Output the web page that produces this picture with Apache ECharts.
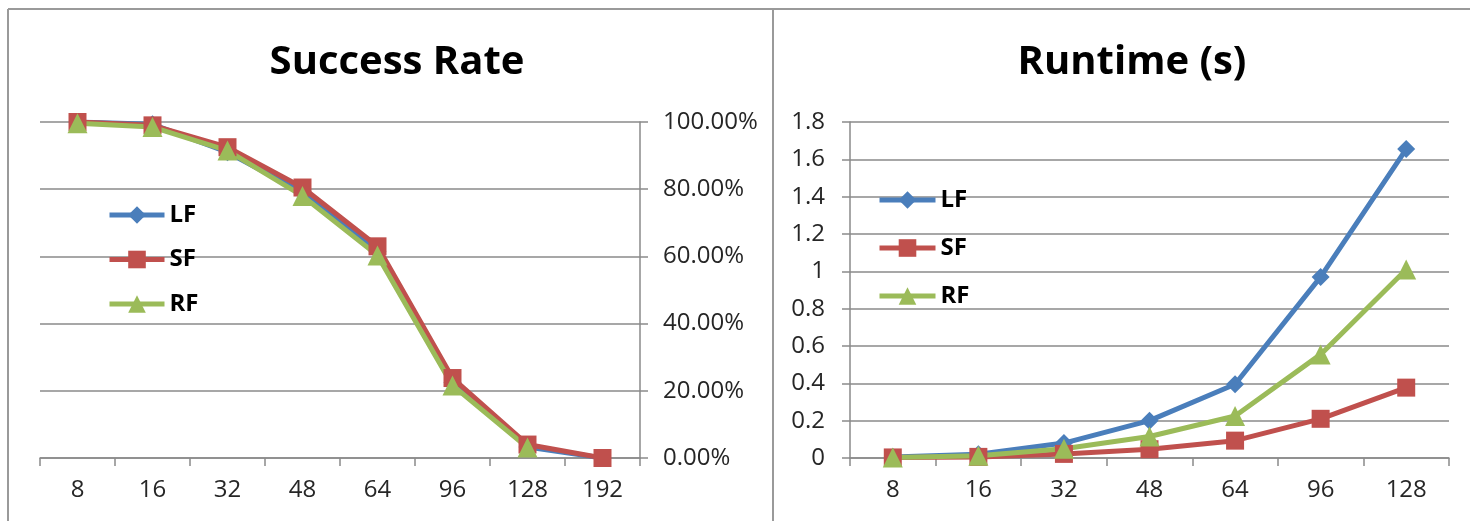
<!DOCTYPE html>
<html>
<head>
<meta charset="utf-8">
<script src="https://cdn.jsdelivr.net/npm/echarts@6/dist/echarts.min.js"></script>
<style>
  html, body { margin: 0; padding: 0; background: #fff; }
  #chart { width: 1470px; height: 521px; }
</style>
</head>
<body>
<div id="chart"></div>
<script>
// Success rate (%) by problem size
const successCategories = ['8', '16', '32', '48', '64', '96', '128', '192'];
const successLF = [100, 99.3, 91, 79, 61.5, 22.5, 3.3, 0];
const successSF = [100, 99, 92.5, 80.5, 63, 23.8, 4, 0];
const successRF = [99.6, 98.5, 91.5, 78, 60.3, 21.6, 3.1, null];

// Runtime (seconds) by problem size
const runtimeCategories = ['8', '16', '32', '48', '64', '96', '128'];
const runtimeLF = [0.005, 0.02, 0.08, 0.2, 0.395, 0.97, 1.655];
const runtimeSF = [0.003, 0.006, 0.022, 0.047, 0.093, 0.21, 0.377];
const runtimeRF = [0.003, 0.012, 0.05, 0.115, 0.225, 0.555, 1.01];

const seriesNames = ['LF', 'SF', 'RF'];

const COLORS = { LF: '#4a7ebb', SF: '#c0504d', RF: '#9bbb59' };
const SYMBOLS = { LF: ['diamond', 18], SF: ['rect', 18], RF: ['triangle', 20] };
const FONT = '"Open Sans", "DejaVu Sans", sans-serif';
const GRID_COLOR = '#8a8a8a';
const TEXT_COLOR = '#262626';

function lineSeries(name, data, axisIdx) {
  return {
    name: name,
    type: 'line',
    data: data,
    xAxisIndex: axisIdx,
    yAxisIndex: axisIdx,
    symbol: SYMBOLS[name][0],
    symbolSize: SYMBOLS[name][1],
    showAllSymbol: true,
    connectNulls: false,
    lineStyle: { color: COLORS[name], width: 5 },
    itemStyle: { color: COLORS[name] },
    emphasis: { disabled: true }
  };
}

function catAxis(gridIndex, data) {
  return {
    type: 'category',
    gridIndex: gridIndex,
    data: data,
    boundaryGap: true,
    axisLine: { show: true, lineStyle: { color: GRID_COLOR, width: 1.5 } },
    axisTick: { show: true, length: 8, alignWithLabel: false, lineStyle: { color: GRID_COLOR, width: 1.5 } },
    axisLabel: { color: TEXT_COLOR, fontFamily: FONT, fontSize: 24, margin: 20 },
    splitLine: { show: false }
  };
}

function legendBlock(left, top, itemWidth, itemGap) {
  return {
    data: seriesNames,
    orient: 'vertical',
    left: left, top: top,
    itemWidth: itemWidth, itemHeight: 22, itemGap: itemGap,
    selectedMode: false,
    lineStyle: { width: 5 },
    textStyle: { fontFamily: FONT, fontWeight: 'bold', fontSize: 24, color: '#000', lineHeight: 24 }
  };
}

const chart = echarts.init(document.getElementById('chart'), null, { renderer: 'canvas' });

chart.setOption({
  animation: false,
  backgroundColor: '#ffffff',
  title: [
    {
      text: 'Success Rate',
      left: 392, top: 38,
      textAlign: 'center',
      textStyle: { fontFamily: FONT, fontWeight: 'bold', fontSize: 40, color: '#000' }
    },
    {
      text: 'Runtime (s)',
      left: 1127, top: 38,
      textAlign: 'center',
      textStyle: { fontFamily: FONT, fontWeight: 'bold', fontSize: 40, color: '#000' }
    }
  ],
  legend: [
    legendBlock(102, 198, 55, 20.5),
    legendBlock(872, 183, 56, 24)
  ],
  grid: [
    { left: 40, right: 830, top: 122, bottom: 63, containLabel: false },
    { left: 850, right: 21, top: 122, bottom: 63, containLabel: false }
  ],
  xAxis: [
    catAxis(0, successCategories),
    catAxis(1, runtimeCategories)
  ],
  yAxis: [
    {
      type: 'value',
      gridIndex: 0,
      position: 'right',
      min: 0, max: 100, interval: 20,
      axisLine: { show: true, lineStyle: { color: GRID_COLOR, width: 1.5 } },
      axisTick: { show: true, length: 8, inside: false, lineStyle: { color: GRID_COLOR, width: 1.5 } },
      axisLabel: {
        color: TEXT_COLOR, fontFamily: FONT, fontSize: 24, margin: 23, align: 'left',
        formatter: function (v) { return v.toFixed(2) + '%'; }
      },
      splitLine: { show: true, lineStyle: { color: GRID_COLOR, width: 1.5 } }
    },
    {
      type: 'value',
      gridIndex: 1,
      position: 'left',
      min: 0, max: 1.8, interval: 0.2,
      axisLine: { show: true, lineStyle: { color: GRID_COLOR, width: 1.5 } },
      axisTick: { show: true, length: 8, lineStyle: { color: GRID_COLOR, width: 1.5 } },
      axisLabel: {
        color: TEXT_COLOR, fontFamily: FONT, fontSize: 24, margin: 25,
        formatter: function (v) { return String(parseFloat(v.toFixed(1))); }
      },
      splitLine: { show: true, lineStyle: { color: GRID_COLOR, width: 1.5 } }
    }
  ],
  series: [
    lineSeries('LF', successLF, 0),
    lineSeries('SF', successSF, 0),
    lineSeries('RF', successRF, 0),
    lineSeries('LF', runtimeLF, 1),
    lineSeries('SF', runtimeSF, 1),
    lineSeries('RF', runtimeRF, 1)
  ],
  // panel frame lines
  graphic: [
    { type: 'line', shape: { x1: 8, y1: 9, x2: 1470, y2: 9 }, style: { stroke: '#9a9a9a', lineWidth: 2 }, silent: true },
    { type: 'line', shape: { x1: 8, y1: 9, x2: 8, y2: 521 }, style: { stroke: '#9a9a9a', lineWidth: 2 }, silent: true },
    { type: 'line', shape: { x1: 773, y1: 9, x2: 773, y2: 521 }, style: { stroke: '#9a9a9a', lineWidth: 2 }, silent: true }
  ]
});
</script>
</body>
</html>
